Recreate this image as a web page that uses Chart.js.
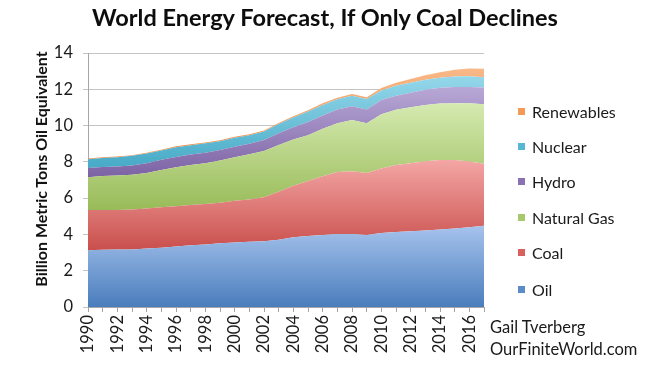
<!DOCTYPE html>
<html>
<head>
<meta charset="utf-8">
<script src="https://cdn.jsdelivr.net/npm/chart.js@4/dist/chart.umd.min.js"></script>
<style>
  html, body { margin: 0; padding: 0; background: #ffffff; }
  #wrap { position: relative; width: 650px; height: 368px; font-family: Lato, "Open Sans", sans-serif; color: #111; }
  #c { position: absolute; left: 0; top: 0; }
  #title { position: absolute; left: 0; width: 650px; top: 3px; text-align: center; font-weight: bold; font-size: 23.5px; color: #0d0d0d; }
  #ytitle { position: absolute; left: 41px; top: 169px; width: 300px; margin-left: -150px; margin-top: -10px; height: 20px; line-height: 20px; text-align: center; transform: rotate(-90deg); font-weight: bold; font-size: 16px; color: #111; white-space: nowrap; }
  .leg { position: absolute; left: 518px; font-size: 16px; line-height: 20px; height: 20px; white-space: nowrap; color: #1a1a1a; }
  .leg span.sw { display: inline-block; width: 7px; height: 7px; margin-right: 7px; vertical-align: 3px; }
  .credit { position: absolute; left: 490px; font-size: 16.5px; white-space: nowrap; color: #1a1a1a; }
</style>
</head>
<body>
<div id="wrap">
  <canvas id="c" width="650" height="368"></canvas>
  <div id="title">World Energy Forecast, If Only Coal Declines</div>
  <div id="ytitle">Billion Metric Tons Oil Equivalent</div>
  <div id="legend"></div>
  <div class="credit" style="top:317px">Gail Tverberg</div>
  <div class="credit" style="top:339px">OurFiniteWorld.com</div>
</div>
<script>
// ---- data (billion metric tons oil equivalent) ----
const years = [1990,1991,1992,1993,1994,1995,1996,1997,1998,1999,2000,2001,2002,2003,2004,2005,2006,2007,2008,2009,2010,2011,2012,2013,2014,2015,2016,2017];
const oil        = [3.13,3.15,3.17,3.17,3.22,3.27,3.33,3.40,3.45,3.52,3.56,3.59,3.63,3.70,3.85,3.92,3.97,4.02,4.02,3.97,4.08,4.13,4.18,4.22,4.27,4.33,4.40,4.48];
const coal       = [2.21,2.19,2.18,2.21,2.21,2.23,2.23,2.22,2.23,2.23,2.29,2.34,2.42,2.65,2.83,3.03,3.23,3.42,3.46,3.41,3.56,3.70,3.74,3.81,3.83,3.77,3.62,3.42];
const naturalGas = [1.81,1.88,1.90,1.91,1.95,2.05,2.14,2.20,2.25,2.33,2.40,2.49,2.55,2.58,2.55,2.52,2.62,2.69,2.83,2.75,2.99,3.04,3.09,3.11,3.12,3.13,3.21,3.28];
const hydro      = [0.51,0.49,0.49,0.51,0.54,0.56,0.57,0.58,0.57,0.57,0.58,0.58,0.61,0.65,0.68,0.72,0.74,0.75,0.76,0.76,0.78,0.77,0.80,0.83,0.87,0.89,0.90,0.92];
const nuclear    = [0.48,0.50,0.51,0.53,0.54,0.52,0.54,0.52,0.52,0.49,0.50,0.47,0.46,0.50,0.53,0.58,0.58,0.57,0.57,0.57,0.52,0.55,0.55,0.55,0.55,0.59,0.59,0.57];
const renewables = [0.04,0.04,0.04,0.04,0.04,0.04,0.05,0.05,0.05,0.05,0.05,0.05,0.06,0.06,0.08,0.08,0.09,0.09,0.10,0.10,0.14,0.17,0.21,0.25,0.30,0.37,0.42,0.46];
const seriesNames = ["Oil","Coal","Natural Gas","Hydro","Nuclear","Renewables"];
const yTicks = [0,2,4,6,8,10,12,14];

// ---- styles ----
const palette = [
  {dark:"#4a7dbd", light:"#a6c3ec", sw:"#5b8bc9"},
  {dark:"#c94f4c", light:"#f3a6a5", sw:"#d9605e"},
  {dark:"#98bb58", light:"#d5eab0", sw:"#a9c86e"},
  {dark:"#7c62a4", light:"#b8a8d6", sw:"#8a72b2"},
  {dark:"#46aac7", light:"#95d7ea", sw:"#58b7d2"},
  {dark:"#f08c42", light:"#f8b888", sw:"#f59a56"}
];
const allSeries = [oil, coal, naturalGas, hydro, nuclear, renewables];

function gradFor(i) {
  return function(ctx) {
    const chart = ctx.chart;
    const area = chart.chartArea;
    if (!area) return palette[i].dark;
    const y = chart.scales.y;
    let lo = Infinity, hi = -Infinity;
    for (let k = 0; k < years.length; k++) {
      let base = 0;
      for (let j = 0; j < i; j++) base += allSeries[j][k];
      const top = base + allSeries[i][k];
      lo = Math.min(lo, base); hi = Math.max(hi, top);
    }
    const g = chart.ctx.createLinearGradient(0, y.getPixelForValue(hi), 0, y.getPixelForValue(lo));
    g.addColorStop(0, palette[i].light);
    g.addColorStop(1, palette[i].dark);
    return g;
  };
}

const datasets = allSeries.map((arr, i) => ({
  label: seriesNames[i],
  data: arr,
  fill: i === 0 ? 'origin' : '-1',
  backgroundColor: gradFor(i),
  borderColor: 'rgba(0,0,0,0)',
  borderWidth: 0,
  pointRadius: 0,
  tension: 0
}));

// legend (HTML, reversed order)
const legendEl = document.getElementById('legend');
const legTops = [102, 137, 172, 208, 243, 280];
seriesNames.slice().reverse().forEach((name, k) => {
  const idx = seriesNames.length - 1 - k;
  const d = document.createElement('div');
  d.className = 'leg';
  d.style.top = legTops[k] + 'px';
  d.innerHTML = '<span class="sw" style="background:' + palette[idx].sw + '"></span>' + name;
  legendEl.appendChild(d);
});

Chart.defaults.font.family = 'Lato, "Open Sans", sans-serif';
Chart.defaults.color = '#1a1a1a';

new Chart(document.getElementById('c'), {
  type: 'line',
  data: { labels: years.map(String), datasets },
  options: {
    responsive: false,
    animation: false,
    layout: { padding: { left: 0, top: 53, right: 166, bottom: 0 } },
    plugins: { legend: { display: false }, tooltip: { enabled: false }, title: { display: false } },
    elements: { line: { borderWidth: 0 } },
    scales: {
      x: {
        type: 'category',
        offset: false,
        grid: { display: true, drawOnChartArea: false, drawTicks: true, tickLength: 5, color: '#a6a6a6' },
        border: { display: true, color: '#a6a6a6' },
        ticks: {
          autoSkip: false, maxRotation: 90, minRotation: 90, padding: 3,
          font: { size: 16.5 }, color: '#1a1a1a',
          callback: function(v, i) { const yr = years[i]; return yr % 2 === 0 ? String(yr) : ''; }
        },
        afterFit: function(s) { s.height = 61; }
      },
      y: {
        stacked: true,
        min: 0, max: 14,
        afterBuildTicks: function(s) { s.ticks = yTicks.map(v => ({ value: v })); },
        grid: { color: '#c4c4c4', lineWidth: 1, drawTicks: true, tickLength: 5 },
        border: { display: true, color: '#a6a6a6' },
        ticks: { font: { size: 16.5 }, color: '#1a1a1a', padding: 10 },
        afterFit: function(s) { s.width = 88; }
      }
    }
  }
});
</script>
</body>
</html>
